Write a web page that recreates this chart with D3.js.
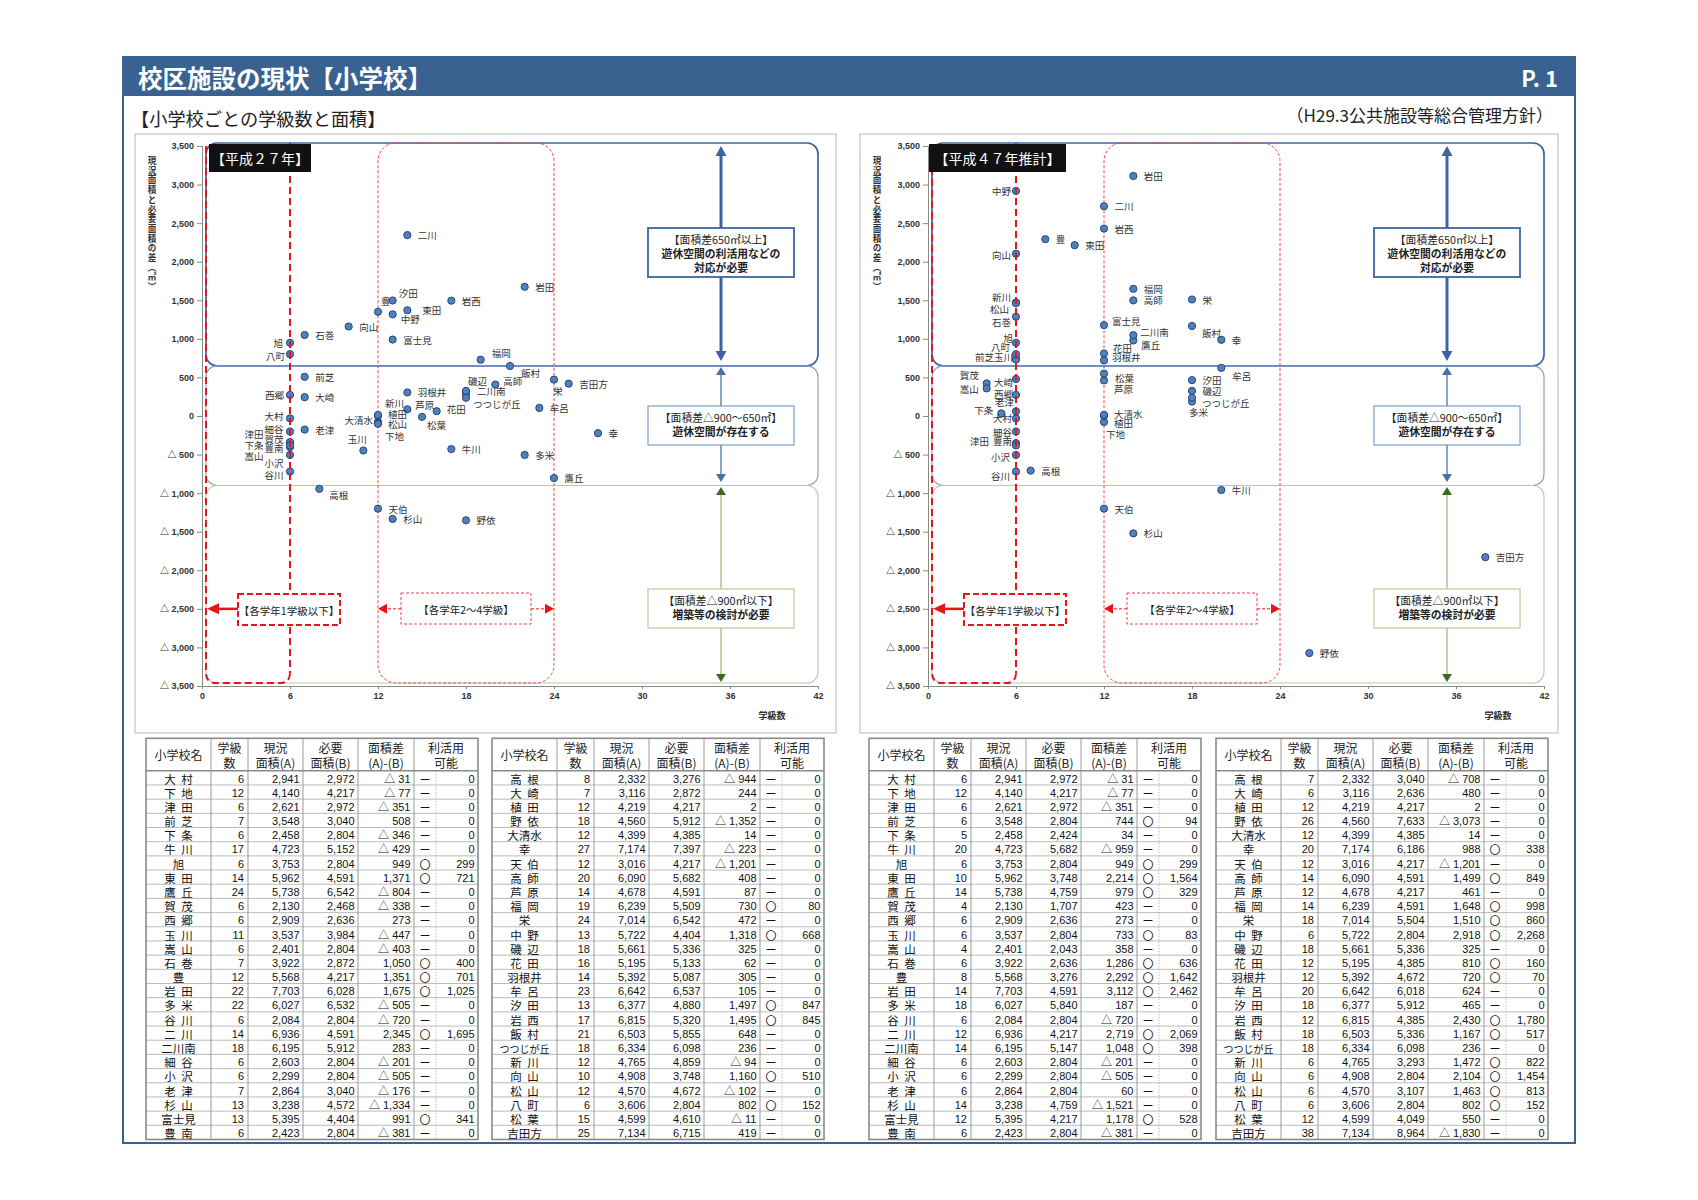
<!DOCTYPE html>
<html><head><meta charset="utf-8">
<script src="https://cdn.jsdelivr.net/npm/d3@7"></script>
<style>body{margin:0;background:#fff}svg{display:block}</style>
</head><body>
<svg id="c" width="1698" height="1200"></svg>
<script>
// ---------------- DATA ----------------
const namesA = ["大村","下地","津田","前芝","下条","牛川","旭","東田","鷹丘","賀茂","西郷","玉川","嵩山","石巻","豊","岩田","多米","谷川","二川","二川南","細谷","小沢","老津","杉山","富士見","豊南"];
const namesB = ["高根","大崎","植田","野依","大清水","幸","天伯","高師","芦原","福岡","栄","中野","磯辺","花田","羽根井","牟呂","汐田","岩西","飯村","つつじが丘","新川","向山","松山","八町","松葉","吉田方"];
const schools = namesA.concat(namesB);

const classesH27 = [6,12,6,7,6,17,6,14,24,6,6,11,6,7,12,22,22,6,14,18,6,6,7,13,13,6,
                    8,7,12,18,12,27,12,20,14,19,24,13,18,16,14,23,13,17,21,18,12,10,12,6,15,25];
const areaA = [2941,4140,2621,3548,2458,4723,3753,5962,5738,2130,2909,3537,2401,3922,5568,7703,6027,2084,6936,6195,2603,2299,2864,3238,5395,2423,
               2332,3116,4219,4560,4399,7174,3016,6090,4678,6239,7014,5722,5661,5195,5392,6642,6377,6815,6503,6334,4765,4908,4570,3606,4599,7134];
const needH27 = [2972,4217,2972,3040,2804,5152,2804,4591,6542,2468,2636,3984,2804,2872,4217,6028,6532,2804,4591,5912,2804,2804,3040,4572,4404,2804,
                 3276,2872,4217,5912,4385,7397,4217,5682,4591,5509,6542,4404,5336,5133,5087,6537,4880,5320,5855,6098,4859,3748,4672,2804,4610,6715];
const diffH27 = [-31,-77,-351,508,-346,-429,949,1371,-804,-338,273,-447,-403,1050,1351,1675,-505,-720,2345,283,-201,-505,-176,-1334,991,-381,
                 -944,244,2,-1352,14,-223,-1201,408,87,730,472,1318,325,62,305,105,1497,1495,648,236,-94,1160,-102,802,-11,419];
const useH27 = [0,0,0,0,0,0,299,721,0,0,0,0,0,400,701,1025,0,0,1695,0,0,0,0,0,341,0,
                0,0,0,0,0,0,0,0,0,80,0,668,0,0,0,0,847,845,0,0,0,510,0,152,0,0];

const classesH47 = [6,12,6,6,5,20,6,10,14,4,6,6,4,6,8,14,18,6,12,14,6,6,6,14,12,6,
                    7,6,12,26,12,20,12,14,12,14,18,6,18,12,12,20,18,12,18,18,6,6,6,6,12,38];
const needH47 = [2972,4217,2972,2804,2424,5682,2804,3748,4759,1707,2636,2804,2043,2636,3276,4591,5840,2804,4217,5147,2804,2804,2804,4759,4217,2804,
                 3040,2636,4217,7633,4385,6186,4217,4591,4217,4591,5504,2804,5336,4385,4672,6018,5912,4385,5336,6098,3293,2804,3107,2804,4049,8964];
const diffH47 = [-31,-77,-351,744,34,-959,949,2214,979,423,273,733,358,1286,2292,3112,187,-720,2719,1048,-201,-505,60,-1521,1178,-381,
                 -708,480,2,-3073,14,988,-1201,1499,461,1648,1510,2918,325,810,720,624,465,2430,1167,236,1472,2104,1463,802,550,-1830];
const useH47 = [0,0,0,94,0,0,299,1564,329,0,0,83,0,636,1642,2462,0,0,2069,398,0,0,0,0,528,0,
                0,0,0,0,0,338,0,849,0,998,860,2268,0,160,70,0,0,1780,517,0,822,1454,813,152,0,0];

const yTicks = [3500,3000,2500,2000,1500,1000,500,0,-500,-1000,-1500,-2000,-2500,-3000,-3500];
const xTicks = [0,6,12,18,24,30,36,42];
const zoneBreaks = [650, -900];
const groupBreaks = [6, 12, 24];

// ---------------- LAYOUT (label offsets) ----------------
const lab27 = {
 "汐田":["start",6,-8],"豊":["start",3,-11],"中野":["start",8,5],"東田":["start",15,0],
 "旭":["end",-7,0],"八町":["end",-5,1.5],"西郷":["end",-6,0],"大村":["end",-6.5,-2],"細谷":["end",-6.5,-3],
 "賀茂":["end",-6.5,-3],"豊南":["end",-6.5,3],"津田":["middle",-36,-9],"下条":["middle",-36,2.3],"嵩山":["middle",-36,8.6],
 "小沢":["end",-6.5,8],"谷川":["end",-6.5,3],"高根":["start",10,6],"玉川":["middle",-6,-11.5],
 "大清水":["end",-5,5],"新川":["start",7,-20],"植田":["start",10,-1.5],"松山":["start",10,0],"下地":["start",7,14],
 "芦原":["start",8,-4],"花田":["start",10,-2],"松葉":["start",5,8],"磯辺":["start",2,-10],"二川南":["start",11,-3],
 "つつじが丘":["start",7,6],"高師":["start",8,-4],"飯村":["start",11,7],"福岡":["start",11,-7],"栄":["middle",4,11]
};
const lab47 = {
 "中野":["end",-5,0],"向山":["end",-5,1],"新川":["end",-5,-5],"松山":["end",-7,6],"石巻":["end",-5,5],
 "旭":["end",-3,-5],"八町":["end",-6,-7],"玉川":["end",-3,-2.5],"前芝":["end",-22,-1.8],
 "富士見":["start",8,-4],"二川南":["start",7,-3],"鷹丘":["start",8,5],"花田":["start",9,-6],"羽根井":["start",8,-3],
 "松葉":["start",11,4],"芦原":["start",10,9],"大清水":["start",10,-1],"植田":["start",10,7],"下地":["start",2,12],
 "飯村":["start",10,7],"牟呂":["start",11,8],"つつじが丘":["start",10,5],"多米":["start",-3,10],
 "賀茂":["end",-8,-8],"嵩山":["end",-8,1],"大崎":["end",-3,3],"西郷":["end",-3,-1],"老津":["end",-2,-9],
 "下条":["end",-8,-3],"大村":["end",-4,0],"細谷":["end",-4,0],"豊南":["end",-4,-4],"津田":["end",-27,-2],
 "小沢":["end",-6,2],"谷川":["end",-6,4]
};

// ---------------- DRAW ----------------
const JP = "'Noto Sans CJK JP','Noto Sans CJK SC',sans-serif";
const NUM = "'Liberation Sans','Noto Sans CJK JP',sans-serif";
const BLUE = "#3a6290";
const RED = "#e8141b";
const svg = d3.select("#c");
svg.append("rect").attr("width",1698).attr("height",1200).attr("fill","#fff");

// frame + header
svg.append("rect").attr("x",123).attr("y",57).attr("width",1452).attr("height",1086)
  .attr("fill","none").attr("stroke",BLUE).attr("stroke-width",2);
svg.append("rect").attr("x",123).attr("y",57).attr("width",1452).attr("height",39).attr("fill",BLUE);
svg.append("text").attr("x",138).attr("y",77).attr("dominant-baseline","central")
  .attr("font-family",JP).attr("font-weight","bold").attr("font-size",24.5).attr("fill","#fff")
  .text("校区施設の現状【小学校】");
svg.append("text").attr("x",1558).attr("y",77).attr("dominant-baseline","central").attr("text-anchor","end")
  .attr("font-family",JP).attr("font-weight","bold").attr("font-size",22).attr("fill","#fff")
  .text("P. 1");
svg.append("text").attr("x",131).attr("y",118).attr("dominant-baseline","central")
  .attr("font-family",JP).attr("font-size",18.2).attr("fill","#222").text("【小学校ごとの学級数と面積】");
svg.append("text").attr("x",1553).attr("y",114).attr("dominant-baseline","central").attr("text-anchor","end")
  .attr("font-family",JP).attr("font-size",17).attr("fill","#222").text("（H29.3公共施設等総合管理方針）");

const fmt = v => v < 0 ? "△ " + d3.format(",")(-v) : d3.format(",")(v);

function tri(g, x, y, dir, len, half, color){
  let p;
  if(dir==="up") p=`M${x},${y}L${x-half},${y+len}L${x+half},${y+len}Z`;
  else if(dir==="down") p=`M${x},${y}L${x-half},${y-len}L${x+half},${y-len}Z`;
  else if(dir==="left") p=`M${x},${y}L${x+len},${y-half}L${x+len},${y+half}Z`;
  else p=`M${x},${y}L${x-len},${y-half}L${x-len},${y+half}Z`;
  g.append("path").attr("d",p).attr("fill",color);
}

function chart(cfg){
  const g = svg.append("g");
  const x = d3.scaleLinear().domain([0,42]).range([cfg.x0, cfg.x0+616]);
  const y = d3.scaleLinear().domain([-3500,3500]).range([686,146]);
  g.append("rect").attr("x",cfg.px).attr("y",134).attr("width",cfg.pw).attr("height",599)
    .attr("fill","#fff").attr("stroke","#c4c4c4").attr("stroke-width",1.2);

  const zl = cfg.x0+4, zr = x(42);
  const zone = (y1,y2,col,w) => g.append("rect").attr("x",zl).attr("y",y1).attr("width",zr-zl).attr("height",y2-y1)
      .attr("rx",11).attr("fill","none").attr("stroke",col).attr("stroke-width",w);
  zone(143, y(zoneBreaks[0]), "#3d64a0", 1.7);
  zone(y(zoneBreaks[0]), y(zoneBreaks[1]), "#7e9cc8", 1.1);
  zone(y(zoneBreaks[1]), 683, "#b5cd9e", 1.1);

  // thin dotted region 12-24
  g.append("rect").attr("x",x(groupBreaks[1])).attr("y",143).attr("width",x(groupBreaks[2])-x(groupBreaks[1]))
    .attr("height",540).attr("rx",18).attr("fill","none").attr("stroke","#f04048").attr("stroke-width",1)
    .attr("stroke-dasharray","3,2");

  // axes
  const ya = g.append("g").attr("transform",`translate(${cfg.x0},0)`)
    .call(d3.axisLeft(y).tickValues(yTicks).tickSize(5).tickPadding(3).tickFormat(fmt));
  const xa = g.append("g").attr("transform",`translate(0,686)`)
    .call(d3.axisBottom(x).tickValues(xTicks).tickSize(3).tickPadding(4).tickFormat(d3.format("d")));
  [ya,xa].forEach(a=>{
    a.selectAll("path,line").attr("stroke","#8a8a8a");
    a.selectAll("text").attr("font-family",NUM).attr("font-weight","bold").attr("font-size",9).attr("fill","#333");
  });

  // axis titles
  const ytitle = ["現","況","面","積","と","必","要","面","積","の","差","︵","㎡","︶"];
  ytitle.forEach((ch,i)=>{
    g.append("text").attr("x",cfg.px+17).attr("y",160+i*9.7).attr("text-anchor","middle").attr("dominant-baseline","central")
      .attr("font-family",JP).attr("font-weight","bold").attr("font-size",8.6).attr("fill","#333").text(ch);
  });
  g.append("text").attr("x",cfg.x0+570).attr("y",715).attr("text-anchor","middle").attr("dominant-baseline","central")
    .attr("font-family",JP).attr("font-weight","bold").attr("font-size",9).attr("fill","#333").text("学級数");

  // points
  const pts = schools.map((s,i)=>({name:s, c:cfg.classes[i], d:cfg.diffs[i]}));
  g.append("g").selectAll("circle").data(pts).join("circle")
    .attr("cx",p=>x(p.c)).attr("cy",p=>y(p.d)).attr("r",3.6)
    .attr("fill","#4f81bd").attr("stroke","#24467a").attr("stroke-width",1);

  // red thick dashed region up to 6 classes
  const x6 = x(groupBreaks[0]);
  g.append("path").attr("d",`M${zl},146V673Q${zl},683 ${zl+10},683H${x6-10}Q${x6},683 ${x6},673`)
    .attr("fill","none").attr("stroke",RED).attr("stroke-width",2).attr("stroke-dasharray","7,4");
  g.append("line").attr("x1",x6).attr("x2",x6).attr("y1",143).attr("y2",673)
    .attr("stroke",RED).attr("stroke-width",2).attr("stroke-dasharray","7,4");

  // labels
  g.append("g").selectAll("text").data(pts).join("text")
    .each(function(p){
      const L = cfg.labels[p.name] || ["start",10.5,0];
      d3.select(this).attr("text-anchor",L[0]).attr("x",x(p.c)+L[1]).attr("y",y(p.d)+L[2]);
    })
    .attr("dominant-baseline","central").attr("font-family",JP).attr("font-size",9.5).attr("fill","#333")
    .text(p=>p.name);

  // annotation arrows & boxes
  const ax = cfg.x0+519;
  g.append("line").attr("x1",ax).attr("x2",ax).attr("y1",154).attr("y2",353).attr("stroke","#3d64a0").attr("stroke-width",3);
  tri(g,ax,146,"up",10,5.5,"#3d64a0"); tri(g,ax,361,"down",10,5.5,"#3d64a0");
  g.append("line").attr("x1",ax).attr("x2",ax).attr("y1",374).attr("y2",476).attr("stroke","#5f83ba").attr("stroke-width",1.5);
  tri(g,ax,367,"up",8,5,"#4a70aa"); tri(g,ax,482,"down",8,5,"#4a70aa");
  g.append("line").attr("x1",ax).attr("x2",ax).attr("y1",494).attr("y2",675).attr("stroke","#a9c48f").attr("stroke-width",1.5);
  tri(g,ax,487,"up",8,5,"#3d6b1e"); tri(g,ax,682,"down",8,5,"#3d6b1e");

  const box = (y0,h,col,w,lines)=>{
    g.append("rect").attr("x",ax-73).attr("y",y0).attr("width",146).attr("height",h)
      .attr("fill","#fff").attr("stroke",col).attr("stroke-width",w);
    lines.forEach((l,i)=>{
      g.append("text").attr("x",ax).attr("y",y0+10.5+i*14).attr("text-anchor","middle").attr("dominant-baseline","central")
        .attr("font-family",JP).attr("font-size",10.8).attr("font-weight",i===0?"normal":"bold").attr("fill","#222").text(l);
    });
  };
  box(228,49,"#3d64a0",1.8,["【面積差650㎡以上】","遊休空間の利活用などの","対応が必要"]);
  box(406,39,"#7e9cc8",1.2,["【面積差△900～650㎡】","遊休空間が存在する"]);
  box(589,39,"#b5cd9e",1.2,["【面積差△900㎡以下】","増築等の検討が必要"]);

  // group labels bottom
  const yA = y(-2500);
  g.append("line").attr("x1",cfg.x0+36).attr("x2",zl+10).attr("y1",yA).attr("y2",yA).attr("stroke",RED).attr("stroke-width",2.5);
  tri(g,zl+1,yA,"left",12,5.5,RED);
  g.append("rect").attr("x",cfg.x0+36).attr("y",594).attr("width",102).attr("height",31)
    .attr("fill","#fff").attr("stroke",RED).attr("stroke-width",2).attr("stroke-dasharray","6,3");
  g.append("text").attr("x",cfg.x0+87).attr("y",610).attr("text-anchor","middle").attr("dominant-baseline","central")
    .attr("font-family",JP).attr("font-size",10.5).attr("fill","#222").text("【各学年1学級以下】");

  const x12 = x(groupBreaks[1]), x24 = x(groupBreaks[2]);
  g.append("line").attr("x1",cfg.x0+199).attr("x2",x12+8).attr("y1",yA).attr("y2",yA).attr("stroke",RED).attr("stroke-width",1).attr("stroke-dasharray","3,2");
  tri(g,x12,yA,"left",9,5,RED);
  g.append("line").attr("x1",cfg.x0+329).attr("x2",x24-8).attr("y1",yA).attr("y2",yA).attr("stroke",RED).attr("stroke-width",1).attr("stroke-dasharray","3,2");
  tri(g,x24,yA,"right",9,5,RED);
  g.append("rect").attr("x",cfg.x0+199).attr("y",593).attr("width",130).attr("height",31)
    .attr("fill","#fff").attr("stroke","#f04048").attr("stroke-width",1).attr("stroke-dasharray","3,2");
  g.append("text").attr("x",cfg.x0+264).attr("y",609).attr("text-anchor","middle").attr("dominant-baseline","central")
    .attr("font-family",JP).attr("font-size",10.5).attr("fill","#222").text("【各学年2～4学級】");

  // black title tag
  g.append("rect").attr("x",cfg.x0+cfg.tbx).attr("y",144).attr("width",cfg.tbw).attr("height",28).attr("fill","#111");
  g.append("text").attr("x",cfg.x0+cfg.tbx+cfg.tbw/2).attr("y",158).attr("text-anchor","middle").attr("dominant-baseline","central")
    .attr("font-family",JP).attr("font-size",14).attr("fill","#fff").text(cfg.title);
}

chart({x0:202, px:135, pw:701, classes:classesH27, diffs:diffH27, labels:lab27, title:"【平成２７年】", tbx:7, tbw:102});
chart({x0:928, px:860, pw:698, classes:classesH47, diffs:diffH47, labels:lab47, title:"【平成４７年推計】", tbx:1, tbw:137});

// ---------------- TABLES ----------------
function table(tx, ty, off, classes, need, diff, use){
  const g = svg.append("g").attr("transform",`translate(${tx},${ty})`);
  const C=[0,65,102,157,212,268,290,332], H=32.5, R=14.18, n=26, W=332, Ht=H+R*n;
  g.append("rect").attr("width",W).attr("height",Ht).attr("fill","#fff");
  for(let i=1;i<n;i++) g.append("line").attr("x1",0).attr("x2",W).attr("y1",H+i*R).attr("y2",H+i*R).attr("stroke","#a9a9a9").attr("stroke-width",0.8);
  [1,2,3,4,5].forEach(c=>g.append("line").attr("x1",C[c]).attr("x2",C[c]).attr("y1",0).attr("y2",Ht).attr("stroke","#999").attr("stroke-width",1));
  g.append("line").attr("x1",C[6]).attr("x2",C[6]).attr("y1",H).attr("y2",Ht).attr("stroke","#aaa").attr("stroke-width",0.8).attr("stroke-dasharray","1.5,1.5");
  g.append("line").attr("x1",0).attr("x2",W).attr("y1",H).attr("y2",H).attr("stroke","#8a8a8a").attr("stroke-width",1.4);
  g.append("rect").attr("width",W).attr("height",Ht).attr("fill","none").attr("stroke","#8a8a8a").attr("stroke-width",1.6);
  const ht = (x,y,t)=>g.append("text").attr("x",x).attr("y",y).attr("text-anchor","middle").attr("dominant-baseline","central")
      .attr("font-family",JP).attr("font-size",12).attr("fill","#222").text(t);
  ht(C[1]/2,16.5,"小学校名");
  const heads=[["学級","数"],["現況","面積(A)"],["必要","面積(B)"],["面積差","(A)-(B)"]];
  heads.forEach((h,i)=>{ const cx=(C[i+1]+C[i+2])/2; ht(cx,9.5,h[0]); ht(cx,24.3,h[1]); });
  ht((C[5]+C[7])/2,9.5,"利活用"); ht((C[5]+C[7])/2,24.3,"可能");
  const nf = d3.format(",");
  for(let i=0;i<n;i++){
    const k=off+i, cy=H+i*R+R/2+0.7;
    const nm = schools[k];
    const disp = nm.length===2 ? nm[0]+"\u2002"+nm[1] : nm;
    g.append("text").attr("x",C[1]/2).attr("y",cy).attr("text-anchor","middle").attr("dominant-baseline","central")
      .attr("font-family",JP).attr("font-size",nm.length>=5?10:11.5).attr("fill","#111").text(disp);
    const num=(x,t)=>g.append("text").attr("x",x).attr("y",cy).attr("text-anchor","end").attr("dominant-baseline","central")
      .attr("font-family",NUM).attr("font-size",11).attr("fill","#111").text(t);
    num(C[2]-4, classes[k]);
    num(C[3]-3.5, nf(areaA[k]));
    num(C[4]-3.5, nf(need[k]));
    num(C[5]-3.5, fmt(diff[k]));
    g.append("text").attr("x",(C[5]+C[6])/2).attr("y",cy).attr("text-anchor","middle").attr("dominant-baseline","central")
      .attr("font-family",JP).attr("font-size",11).attr("fill","#111").text(use[k]>0?"〇":"ー");
    num(C[7]-3.5, nf(use[k]));
  }
}
table(146, 738.3, 0, classesH27, needH27, diffH27, useH27);
table(492, 738.3, 26, classesH27, needH27, diffH27, useH27);
table(869, 738.3, 0, classesH47, needH47, diffH47, useH47);
table(1216, 738.3, 26, classesH47, needH47, diffH47, useH47);
</script>
</body></html>
